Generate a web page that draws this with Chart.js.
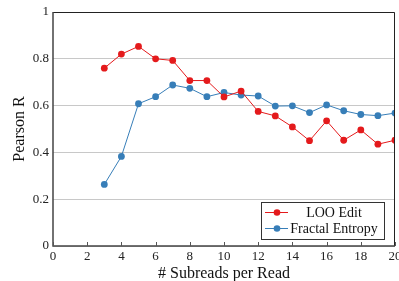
<!DOCTYPE html>
<html><head><meta charset="utf-8">
<script src="https://cdn.jsdelivr.net/npm/chart.js@4/dist/chart.umd.min.js"></script>
<style>html,body{margin:0;padding:0;background:#fff;overflow:hidden}#wrap{width:399px;height:281px}</style>
</head><body><div id="wrap"><canvas id="c" width="399" height="281"></canvas></div>
<script>
const subreads = [3,4,5,6,7,8,9,10,11,12,13,14,15,16,17,18,19,20];
const looEdit = [0.76,0.82,0.853,0.80,0.793,0.707,0.707,0.637,0.662,0.575,0.556,0.509,0.45,0.535,0.452,0.496,0.435,0.452];
const fractalEntropy = [0.263,0.383,0.608,0.638,0.688,0.674,0.638,0.656,0.645,0.641,0.598,0.599,0.57,0.603,0.578,0.562,0.557,0.568];
const seriesNames = ['LOO Edit','Fractal Entropy'];
const xTicks = [0,2,4,6,8,10,12,14,16,18,20];
const yTicks = [0,0.2,0.4,0.6,0.8,1];
const RED = '#e41a1c', BLUE = '#377eb8';
const FONT = '"Liberation Serif","DejaVu Serif",serif';

const extras = {
  id:'extras',
  afterDatasetsDraw(chart){
    const {ctx, chartArea:a, scales:{x}} = chart;
    ctx.save();
    ctx.strokeStyle = '#222'; ctx.lineWidth = 1;
    ctx.beginPath();
    ctx.moveTo(a.left, a.top+0.5); ctx.lineTo(a.right-0.5, a.top+0.5); ctx.lineTo(a.right-0.5, a.bottom);
    ctx.stroke();
    ctx.strokeStyle = '#444'; ctx.lineWidth = 1.5;
    ctx.beginPath();
    ctx.moveTo(a.left, a.top); ctx.lineTo(a.left, a.bottom); ctx.lineTo(a.right, a.bottom);
    ctx.stroke();
    ctx.strokeStyle = '#555'; ctx.lineWidth = 1;
    xTicks.forEach(v=>{ const px = Math.round(x.getPixelForValue(v))+0.5; ctx.beginPath(); ctx.moveTo(px,a.bottom); ctx.lineTo(px,a.bottom-4); ctx.stroke(); });
    // legend
    const lx = a.right-134, ly = a.bottom-44, lw = 123, lh = 37;
    ctx.fillStyle = '#fff'; ctx.fillRect(lx,ly,lw,lh);
    ctx.strokeStyle = '#333'; ctx.lineWidth = 1; ctx.strokeRect(lx+0.5,ly+0.5,lw,lh);
    const cols = [RED, BLUE];
    ctx.font = '14px ' + FONT; ctx.textAlign = 'center'; ctx.textBaseline = 'middle';
    seriesNames.forEach((n,i)=>{
      const yy = ly + 10.5 + i*16;
      ctx.strokeStyle = cols[i]; ctx.lineWidth = 1;
      ctx.beginPath(); ctx.moveTo(lx+4, yy); ctx.lineTo(lx+27, yy); ctx.stroke();
      ctx.fillStyle = cols[i]; ctx.beginPath(); ctx.arc(lx+16, yy, 3.3, 0, Math.PI*2); ctx.fill();
      ctx.fillStyle = '#111'; ctx.fillText(n, lx+73, yy+1);
    });
    ctx.restore();
  }
};

new Chart(document.getElementById('c'), {
  type:'line',
  data:{ datasets:[
    {label:seriesNames[0], data:subreads.map((s,i)=>({x:s,y:looEdit[i]})), borderColor:RED, backgroundColor:RED, borderWidth:1, pointRadius:3.4, pointBorderWidth:0, tension:0},
    {label:seriesNames[1], data:subreads.map((s,i)=>({x:s,y:fractalEntropy[i]})), borderColor:BLUE, backgroundColor:BLUE, borderWidth:1, pointRadius:3.4, pointBorderWidth:0, tension:0}
  ]},
  options:{
    responsive:false, animation:false, devicePixelRatio:1,
    layout:{padding:{top:12,right:4,left:0,bottom:0}},
    plugins:{legend:{display:false}, tooltip:{enabled:false}},
    scales:{
      x:{type:'linear', min:0, max:20,
        afterBuildTicks(s){ s.ticks = xTicks.map(v=>({value:v})); },
        afterFit(s){ s.paddingRight = 0; s.paddingLeft = 0; s.height = 35; },
        grid:{display:false, drawTicks:false}, border:{display:false},
        ticks:{color:'#222', font:{family:FONT,size:13}, padding:3, maxRotation:0, autoSkip:false},
        title:{display:true, text:'# Subreads per Read', color:'#111', font:{family:FONT,size:16}, padding:{top:0,bottom:-2}}
      },
      y:{type:'linear', min:0, max:1,
        afterBuildTicks(s){ s.ticks = yTicks.map(v=>({value:v})); },
        afterFit(s){ s.width = 53; },
        grid:{color:'#c8c8c8', lineWidth:1, drawTicks:false}, border:{display:false},
        ticks:{color:'#222', font:{family:FONT,size:13}, padding:4, callback:v=>String(v)},
        title:{display:true, text:'Pearson R', color:'#111', font:{family:FONT,size:16}, padding:{top:10,bottom:0}}
      }
    }
  },
  plugins:[extras]
});
</script></body></html>
